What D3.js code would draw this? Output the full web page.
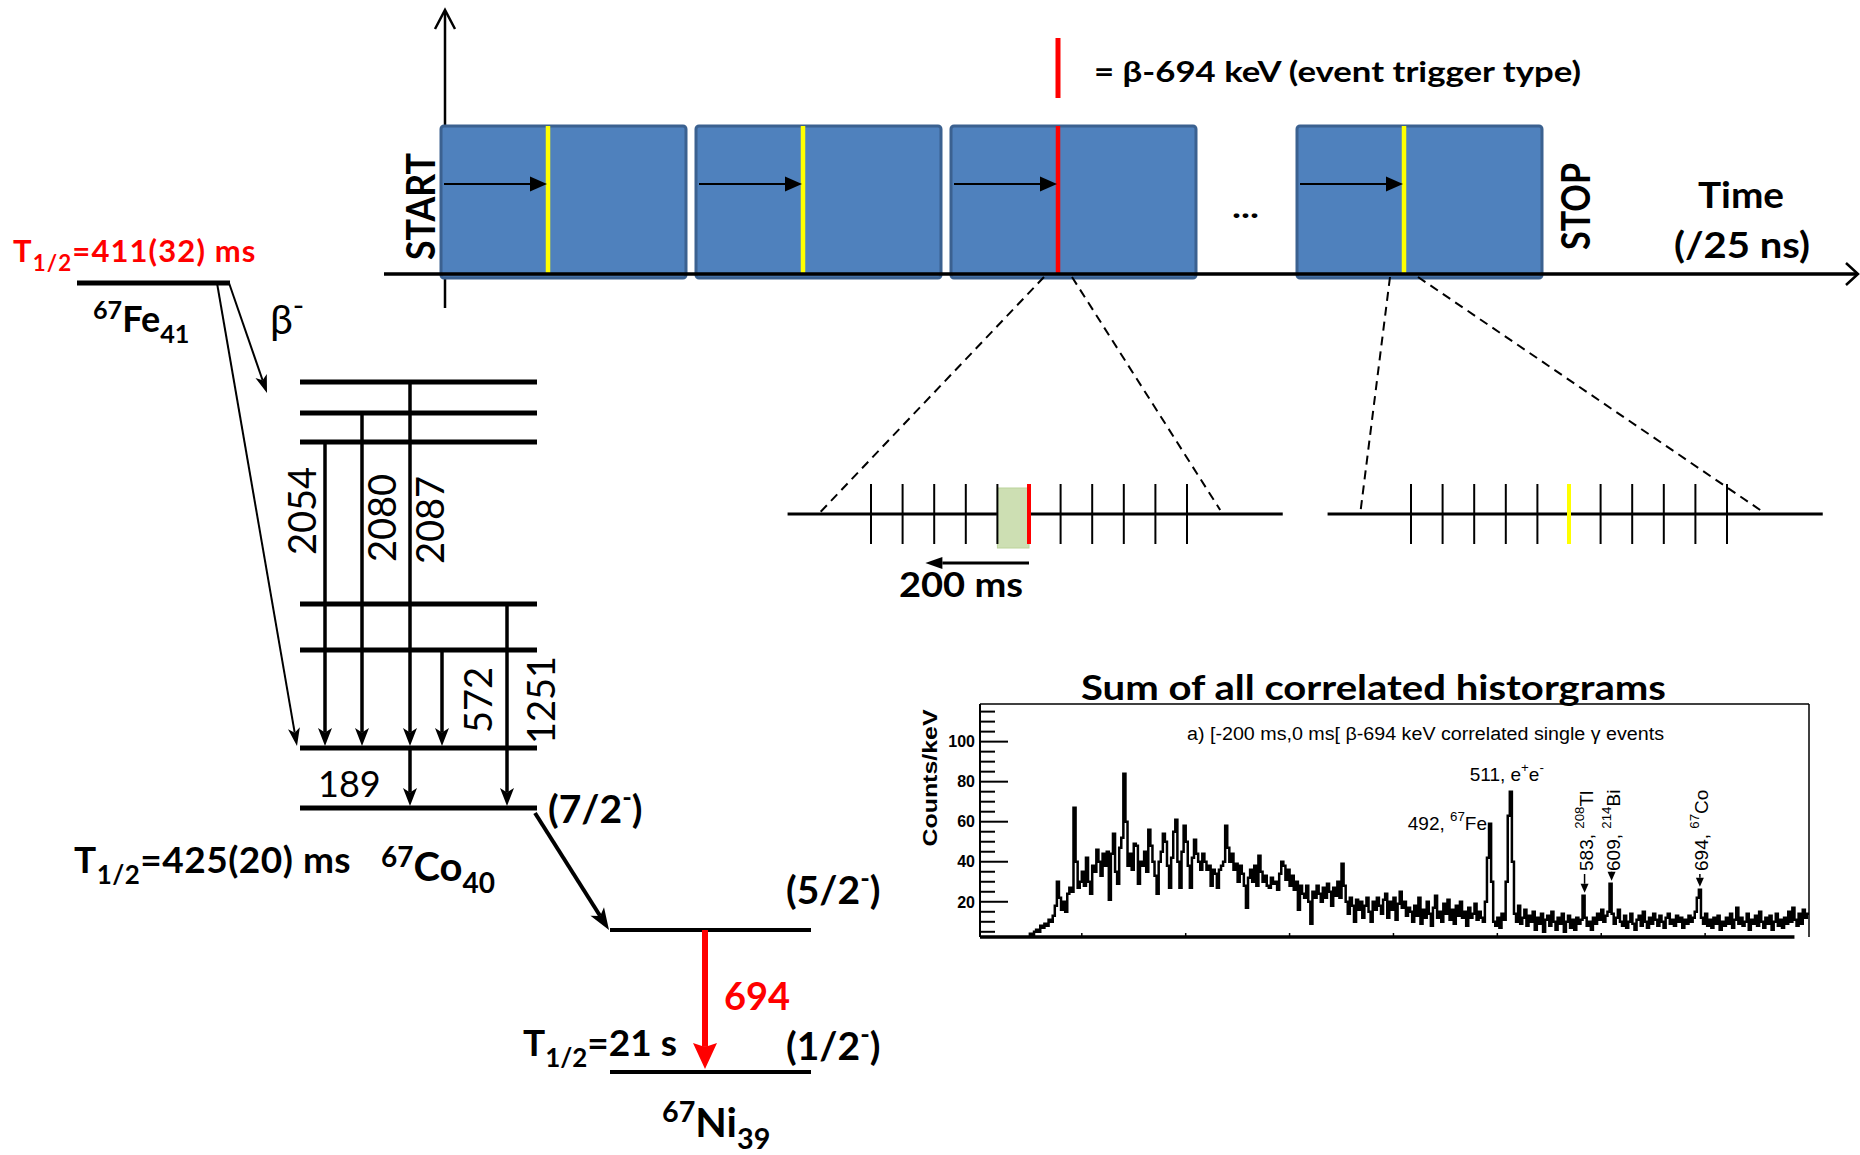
<!DOCTYPE html>
<html><head><meta charset="utf-8">
<script src="https://cdn.jsdelivr.net/npm/d3@7"></script>
<style>body{margin:0;background:#fff;} svg{display:block;}</style>
</head><body>
<svg id="c" width="1860" height="1155"></svg>
<script>
// ---------------- DATA ----------------
// 67Co level energies (keV), schematic order bottom -> top
const coLevels = ["0", "189", "761", "1251", "2243", "2269", "2276"];
// gamma transitions in 67Co (label, initial level, final level, drawing column)
const coGammas = [
  {label: "2054", from: "2243", to: "189", col: "c1"},
  {label: "2080", from: "2269", to: "189", col: "c2"},
  {label: "2087", from: "2276", to: "189", col: "c3"},
  {label: "572",  from: "761",  to: "189", col: "c4"},
  {label: "1251", from: "1251", to: "0",   col: "c5"},
  {label: "189",  from: "189",  to: "0",   col: "c3"}
];
const coColumns = ["c1", "c2", "c3", "c4", "c5"];
// 67Ni levels
const niLevels = ["694", "0"];
const niSpins = ["(5/2^{-})", "(1/2^{-})"];
// time windows of the DAQ (START ... STOP) and the trigger type of each
const windows = ["w1", "w2", "w3", "wN"];
const windowTrigger = ["other", "other", "β-694", "other"];
// zoomed time line: ticks index, index of the trigger
const zoomTicks = [0, 1, 2, 3, 4, 5, 6, 7, 8, 9, 10];
const triggerTick = 5;
// spectrum: 2 keV bins starting at 48 keV (counts/keV)
const spectrumStartKeV = 48;
const spectrumBinKeV = 2;
const spectrumCounts = [
  2,4,3,5,6,5,8,7,9,8,11,10,
  13,18,30,22,16,20,15,24,27,25,
  67,40,27,30,35,28,42,30,24,38,
  35,46,40,33,44,38,45,21,44,54,
  35,29,47,52,84,60,38,44,36,49,
  48,29,40,38,45,35,56,48,40,33,
  24,40,45,54,50,38,27,42,55,61,
  40,27,45,58,50,38,27,42,51,44,
  40,36,44,40,36,38,28,36,34,27,
  36,38,40,58,47,40,44,36,39,30,
  38,34,28,17,32,36,30,38,28,43,
  35,30,33,28,27,32,29,30,26,34,
  40,38,31,36,28,33,26,30,16,28,
  24,22,28,20,9,25,22,28,24,20,
  27,22,29,25,18,27,23,30,22,39,
  28,20,14,22,18,10,21,16,20,12,
  18,22,15,10,20,16,22,18,14,21,
  24,12,20,16,22,11,19,25,17,20,
  13,17,15,10,18,13,22,9,16,12,
  20,14,8,17,23,12,15,10,19,14,
  21,11,16,9,18,13,20,12,15,8,
  17,12,14,19,11,15,12,10,20,42,
  59,30,10,8,12,7,14,11,30,63,
  75,40,14,10,18,9,12,16,8,13,
  10,15,6,12,9,14,5,11,13,8,
  15,10,6,12,9,14,5,10,13,7,
  11,6,12,9,11,23,12,8,10,6,
  12,9,14,11,16,10,13,15,29,14,
  9,12,16,10,8,13,7,10,14,9,
  6,11,13,8,15,10,7,12,9,14,
  11,8,13,10,7,12,14,9,11,8,
  13,10,12,7,11,9,13,10,12,15,
  22,26,12,9,14,8,11,7,12,9,
  13,6,10,8,12,9,14,7,11,17,
  9,12,8,10,14,6,11,9,13,8,
  15,10,7,12,9,13,6,10,14,8,
  11,7,12,9,15,10,17,11,8,14,
  9,16,12,14
];
const yTickValues = [20, 40, 60, 80, 100];
const xTickValues = [100, 200, 300, 400, 500, 600, 700];
const peakLabels = [
  {e: 492, text: "492, ^{67}Fe", rotated: false},
  {e: 511, text: "511, e^{+}e^{-}", rotated: false},
  {e: 583, text: "583, ^{208}Tl", rotated: true},
  {e: 609, text: "609, ^{214}Bi", rotated: true},
  {e: 694, text: "694, ^{67}Co", rotated: true}
];

// ---------------- HELPERS ----------------
const svg = d3.select("#c");
const CAL = "Lato, 'Open Sans', sans-serif";
const ARIAL = "'Liberation Sans', Arial, sans-serif";

function parseRich(s) {
  const parts = []; const re = /([_^])\{([^}]*)\}|([^_^]+)/g; let m;
  while ((m = re.exec(s))) {
    if (m[1]) parts.push({t: m[2], sub: m[1] === "_", sup: m[1] === "^"});
    else parts.push({t: m[3]});
  }
  return parts;
}
function txt(g, s, o) {
  const size = o.size;
  const t = g.append("text")
    .attr("transform", `translate(${o.x},${o.y})` + (o.rot ? ` rotate(${o.rot})` : ""))
    .attr("font-family", o.family || CAL).attr("font-size", size)
    .attr("font-weight", o.weight || "bold").attr("fill", o.fill || "#000")
    .attr("text-anchor", o.anchor || "start");
  if (o.ls) t.attr("letter-spacing", o.ls);
  const parts = parseRich(s);
  if (parts.length === 1 && !parts[0].sub && !parts[0].sup) {
    t.text(s);
    if (o.dy) t.attr("dy", o.dy);
    if (o.len) t.attr("textLength", o.len).attr("lengthAdjust", "spacingAndGlyphs");
    return t;
  }
  let cur = 0;
  parts.forEach(p => {
    let shift = 0, fs = size;
    if (p.sub) { shift = size * (o.subShift || 0.26); fs = size * (o.subScale || 0.66); }
    if (p.sup) { shift = -size * (o.supShift || 0.36); fs = size * (o.supScale || 0.66); }
    t.append("tspan").attr("dy", shift - cur).attr("font-size", fs).text(p.t);
    cur = shift;
  });
  return t;
}
function arrowLine(g, x1, y1, x2, y2, o) {
  const dx = x2 - x1, dy = y2 - y1, L = Math.hypot(dx, dy), ux = dx / L, uy = dy / L;
  const len = o.head || 16, hw = o.hw || 6, notch = o.notch == null ? 0.25 : o.notch;
  const col = o.color || "#000";
  const bx = x2 - ux * len, by = y2 - uy * len;
  const nx = x2 - ux * len * (1 - notch), ny = y2 - uy * len * (1 - notch);
  g.append("line").attr("x1", x1).attr("y1", y1).attr("x2", nx).attr("y2", ny)
    .attr("stroke", col).attr("stroke-width", o.w || 2);
  g.append("path")
    .attr("d", `M${x2},${y2}L${bx - uy * hw},${by + ux * hw}L${nx},${ny}L${bx + uy * hw},${by - ux * hw}Z`)
    .attr("fill", col);
}
function openHead(g, x2, y2, ux, uy, len, hw, w) {
  const bx = x2 - ux * len, by = y2 - uy * len;
  g.append("path").attr("d", `M${bx - uy * hw},${by + ux * hw}L${x2},${y2}L${bx + uy * hw},${by - ux * hw}`)
    .attr("fill", "none").attr("stroke", "#000").attr("stroke-width", w).attr("stroke-linejoin", "miter");
}

// ---------------- LEVEL SCHEME ----------------
const gL = svg.append("g");
const yCo = d3.scaleOrdinal().domain(coLevels).range([808, 748, 650, 604, 442, 413, 382]);
const xCol = d3.scaleOrdinal().domain(coColumns).range([325, 362, 410, 442, 507]);
const yNi = d3.scaleOrdinal().domain(niLevels).range([930, 1072]);
const yFe = 283;

// 67Fe level
gL.append("line").attr("x1", 77).attr("x2", 230).attr("y1", yFe).attr("y2", yFe)
  .attr("stroke", "#000").attr("stroke-width", 5);
txt(gL, "T_{1/2}=411(32) ms", {x: 13, y: 262, size: 31, ls: 1.1, fill: "#ff0000", subShift: 0.3, subScale: 0.72});
txt(gL, "^{67}Fe_{41}", {x: 93, y: 332, size: 36, supScale: 0.7, subScale: 0.7, subShift: 0.3});
txt(gL, "β^{-}", {x: 270, y: 334, size: 41, weight: "normal", supShift: 0.45, supScale: 0.75});
// beta feeding arrows
arrowLine(gL, 229, yFe, 267, 393, {w: 2, head: 18, hw: 6});
arrowLine(gL, 217, yFe, 297, yCo("189") - 2, {w: 2, head: 18, hw: 6});

// 67Co levels
gL.selectAll(".colev").data(coLevels).enter().append("line")
  .attr("x1", 300).attr("x2", 537).attr("y1", d => yCo(d)).attr("y2", d => yCo(d))
  .attr("stroke", "#000").attr("stroke-width", 5);
// gamma arrows
coGammas.forEach(gm => {
  arrowLine(gL, xCol(gm.col), yCo(gm.from), xCol(gm.col), yCo(gm.to) - 2, {w: 3.5, head: 18, hw: 7});
});
const gammaLabelPos = {"2054": [-23, 511], "2080": [20, 518], "2087": [20, 520], "572": [36, 700], "1251": [34, 700]};
coGammas.filter(g => g.label !== "189").forEach(gm => {
  const p = gammaLabelPos[gm.label];
  txt(gL, gm.label, {x: xCol(gm.col) + p[0], y: p[1], rot: -90, size: 38, weight: "normal",
    anchor: "middle", dy: "0.36em"});
});
txt(gL, "189", {x: 318, y: 797, size: 36, weight: "normal"});
txt(gL, "(7/2^{-})", {x: 548, y: 823, size: 39, supShift: 0.4});
txt(gL, "T_{1/2}=425(20) ms", {x: 74, y: 873, size: 37, ls: 0.5, subShift: 0.3, subScale: 0.7});
txt(gL, "^{67}Co_{40}", {x: 381, y: 881, size: 40, supScale: 0.7, subScale: 0.7, subShift: 0.3});

// transition 67Co -> 67Ni
arrowLine(gL, 535, 813, 609, yNi("694"), {w: 4, head: 22, hw: 8});
// 67Ni levels
gL.selectAll(".nilev").data(niLevels).enter().append("line")
  .attr("x1", 610).attr("x2", 811).attr("y1", d => yNi(d)).attr("y2", d => yNi(d))
  .attr("stroke", "#000").attr("stroke-width", 4);
niLevels.forEach((l, i) => {
  txt(gL, niSpins[i], {x: 786, y: yNi(l) + (i === 0 ? -26 : -12), size: 39, supShift: 0.4});
});
arrowLine(gL, 705, yNi("694"), 705, yNi("0") - 3, {w: 6, head: 26, hw: 12, color: "#ff0000", notch: 0.15});
txt(gL, "694", {x: 724, y: 1010, size: 38, fill: "#ff0000"});
txt(gL, "T_{1/2}=21 s", {x: 523, y: 1056, size: 37, subShift: 0.3, subScale: 0.7});
txt(gL, "^{67}Ni_{39}", {x: 662, y: 1137, size: 41, supScale: 0.7, subScale: 0.7, subShift: 0.3});

// ---------------- DAQ TIME WINDOWS ----------------
const gT = svg.append("g");
const xWin = d3.scaleOrdinal().domain(windows).range([441, 696, 951, 1297]);
const winW = 245, winTop = 126, axisY = 274, trigOff = 107;
const trigColor = t => t === "β-694" ? "#ff0000" : "#ffff00";

// vertical axis
gT.append("line").attr("x1", 445).attr("x2", 445).attr("y1", 308).attr("y2", 11)
  .attr("stroke", "#000").attr("stroke-width", 2.5);
openHead(gT, 445, 10, 0, -1, 19, 10, 2.5);
// windows
gT.selectAll(".win").data(windows).enter().append("rect")
  .attr("x", d => xWin(d)).attr("y", winTop).attr("width", winW).attr("height", 152)
  .attr("rx", 3).attr("fill", "#4f81bd").attr("stroke", "#3b6190").attr("stroke-width", 3);
// triggers
gT.selectAll(".trig").data(windows).enter().append("line")
  .attr("x1", d => xWin(d) + trigOff).attr("x2", d => xWin(d) + trigOff)
  .attr("y1", winTop).attr("y2", axisY)
  .attr("stroke", (d, i) => trigColor(windowTrigger[i])).attr("stroke-width", 4.5);
windows.forEach(w => {
  arrowLine(gT, xWin(w) + 3, 184, xWin(w) + trigOff - 1, 184, {w: 2, head: 17, hw: 7.5, notch: 0});
});
// time axis
gT.append("line").attr("x1", 384).attr("x2", 1857).attr("y1", axisY).attr("y2", axisY)
  .attr("stroke", "#000").attr("stroke-width", 3.5);
openHead(gT, 1858, axisY, 1, 0, 12, 11, 2.5);

txt(gT, "START", {x: 0, y: 0, size: 40, rot: -90, len: 107}).attr("transform", "translate(435,260) rotate(-90)");
txt(gT, "STOP", {x: 0, y: 0, size: 40, rot: -90, len: 87}).attr("transform", "translate(1590,250) rotate(-90)");
txt(gT, "...", {x: 1232, y: 218, size: 30, len: 27});
txt(gT, "Time", {x: 1741, y: 208, size: 37, anchor: "middle", len: 86});
txt(gT, "(/25 ns)", {x: 1742, y: 258, size: 37, anchor: "middle", len: 136});
// legend
gT.append("line").attr("x1", xWin("w3") + trigOff).attr("x2", xWin("w3") + trigOff).attr("y1", 38).attr("y2", 98)
  .attr("stroke", "#ff0000").attr("stroke-width", 5);
txt(gT, "= β-694 keV (event trigger type)", {x: 1094, y: 82, size: 29, len: 487});

// ---------------- ZOOMED TIME LINES ----------------
const gZ = svg.append("g");
const zoomLines = [
  {win: "w3", x: d3.scaleLinear().domain([0, 10]).range([871, 1187]), trig: "β-694"},
  {win: "wN", x: d3.scaleLinear().domain([0, 10]).range([1411, 1727]), trig: "other"}
];
const tlY = 514;
zoomLines.forEach(z => {
  const tx = xWin(z.win) + trigOff;
  gZ.append("line").attr("x1", z.x(-2.64)).attr("x2", z.x(13.03)).attr("y1", tlY).attr("y2", tlY)
    .attr("stroke", "#000").attr("stroke-width", 3);
  gZ.append("line").attr("x1", tx - 14).attr("y1", 277).attr("x2", z.x(-1.6)).attr("y2", tlY - 2)
    .attr("stroke", "#000").attr("stroke-width", 2).attr("stroke-dasharray", "9,6");
  gZ.append("line").attr("x1", tx + 14).attr("y1", 277).attr("x2", z.x(11.05)).attr("y2", tlY - 4)
    .attr("stroke", "#000").attr("stroke-width", 2).attr("stroke-dasharray", "9,6");
  if (z.trig === "β-694") {
    gZ.append("rect").attr("x", z.x(triggerTick - 1)).attr("y", 488)
      .attr("width", z.x(triggerTick) - z.x(triggerTick - 1)).attr("height", 60)
      .attr("fill", "#cddfb3").attr("stroke", "#bcd39b").attr("stroke-width", 1);
  }
  gZ.selectAll(null).data(zoomTicks).enter().append("line")
    .attr("x1", d => z.x(d)).attr("x2", d => z.x(d)).attr("y1", 484).attr("y2", 544)
    .attr("stroke", d => d === triggerTick ? trigColor(z.trig) : "#000")
    .attr("stroke-width", d => d === triggerTick ? 4 : 2);
  if (z.trig === "β-694") {
    arrowLine(gZ, z.x(triggerTick), 563, z.x(triggerTick - 3.28), 563, {w: 3, head: 17, hw: 6, notch: 0});
    txt(gZ, "200 ms", {x: 899, y: 597, size: 34, len: 124});
  }
});

// ---------------- SPECTRUM ----------------
const gS = svg.append("g");
const X0 = 980, X1 = 1809, Y0 = 937, Y1 = 704;
const xE = d3.scaleLinear().domain([2, 800]).range([X0, X1]);
const yC = d3.scaleLinear().domain([2.4, 118.8]).range([Y0, Y1]);
txt(gS, "Sum of all correlated historgrams", {x: 1081, y: 700, size: 35, len: 585});
gS.append("clipPath").attr("id", "clipS").append("rect")
  .attr("x", X0).attr("y", Y1).attr("width", X1 - X0).attr("height", Y0 - Y1);
const pts = spectrumCounts.map((c, i) => [spectrumStartKeV + i * spectrumBinKeV, c]);
pts.push([spectrumStartKeV + spectrumCounts.length * spectrumBinKeV, spectrumCounts[spectrumCounts.length - 1]]);
gS.append("path").attr("clip-path", "url(#clipS)")
  .attr("d", d3.line().x(d => xE(d[0])).y(d => yC(d[1])).curve(d3.curveStepAfter)(pts))
  .attr("fill", "none").attr("stroke", "#000").attr("stroke-width", 2.5).attr("stroke-linejoin", "miter");
// frame
gS.append("line").attr("x1", X0).attr("x2", X1).attr("y1", Y1).attr("y2", Y1).attr("stroke", "#000").attr("stroke-width", 1.5);
gS.append("line").attr("x1", X1).attr("x2", X1).attr("y1", Y1).attr("y2", Y0).attr("stroke", "#000").attr("stroke-width", 1.5);
gS.append("line").attr("x1", X0).attr("x2", X0).attr("y1", Y1).attr("y2", Y0).attr("stroke", "#000").attr("stroke-width", 2);
gS.append("line").attr("x1", X0).attr("x2", xE(786)).attr("y1", Y0).attr("y2", Y0).attr("stroke", "#000").attr("stroke-width", 3.5);
// y ticks
const minor = d3.range(5, 119, 5);
gS.selectAll(".yt").data(minor).enter().append("line")
  .attr("x1", X0).attr("x2", d => X0 + (d % 20 === 0 ? 28 : 15))
  .attr("y1", d => yC(d)).attr("y2", d => yC(d)).attr("stroke", "#000").attr("stroke-width", 2);
gS.selectAll(".yl").data(yTickValues).enter().append("text")
  .attr("x", 975).attr("y", d => yC(d)).attr("dy", "0.36em").attr("text-anchor", "end")
  .attr("font-family", ARIAL).attr("font-weight", "bold").attr("font-size", 16).text(d => d);
gS.selectAll(".xt").data(xTickValues).enter().append("line")
  .attr("x1", d => xE(d)).attr("x2", d => xE(d)).attr("y1", Y0).attr("y2", Y0 - 4)
  .attr("stroke", "#000").attr("stroke-width", 1.5);
txt(gS, "Counts/keV", {x: 0, y: 0, size: 21, family: ARIAL, len: 137, anchor: "middle", dy: "0.36em"})
  .attr("transform", "translate(929,778) rotate(-90)");
txt(gS, "a) [-200 ms,0 ms[ β-694 keV correlated single γ events",
  {x: 1187, y: 740, size: 18, weight: "normal", family: ARIAL, len: 477});
// peak labels
function peakCount(e) {
  const i0 = Math.round((e - spectrumStartKeV) / spectrumBinKeV);
  return d3.max(spectrumCounts.slice(i0 - 2, i0 + 3));
}
peakLabels.forEach(p => {
  if (!p.rotated) {
    const isFe = p.e === 492;
    txt(gS, p.text, {x: xE(p.e) - 2, y: isFe ? 830 : 781, size: 19, weight: "normal",
      family: ARIAL, anchor: isFe ? "end" : "middle", supShift: 0.45, supScale: 0.7});
  } else {
    txt(gS, p.text, {x: 0, y: 0, size: 19, weight: "normal", family: ARIAL, supShift: 0.45, supScale: 0.7})
      .attr("transform", `translate(${xE(p.e) + 9},871) rotate(-90)`);
    arrowLine(gS, xE(p.e) + 1, 874, xE(p.e) + 1, yC(peakCount(p.e)) - 3, {w: 1.5, head: 9, hw: 4, notch: 0});
  }
});
</script>
</body></html>
